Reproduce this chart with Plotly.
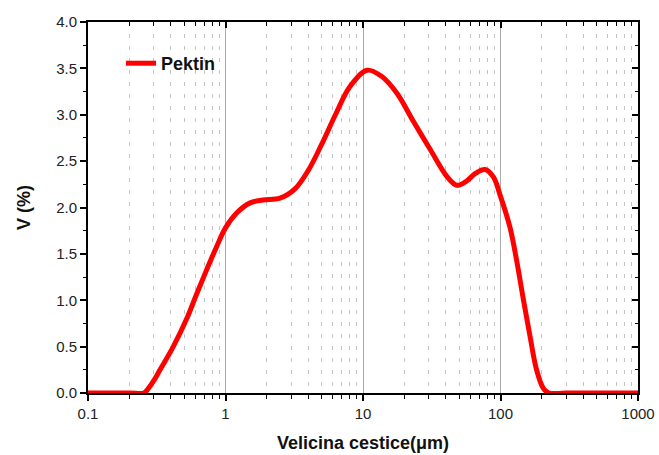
import plotly.graph_objects as go

size_um = [0.1, 0.2, 0.255, 0.275, 0.3, 0.334, 0.417, 0.522, 0.618, 0.73, 0.863, 1.0,
           1.205, 1.51, 1.87, 2.49, 3.2, 4.0, 5.0, 6.3, 8.0, 10.7, 13.5, 17.7, 23.0, 31.0,
           41.0, 48.0, 56.0, 66.0, 77.0, 88.7, 100.0, 117.0, 131.0, 147.0, 164.0, 183.0,
           205.0, 225.0, 300.0, 1000.0]
volume_pct = [0.0, 0.0, 0.0, 0.05, 0.13, 0.25, 0.5, 0.8, 1.07, 1.33, 1.58, 1.78,
              1.94, 2.05, 2.08, 2.1, 2.2, 2.4, 2.68, 3.0, 3.3, 3.48, 3.42, 3.23, 2.94, 2.62,
              2.33, 2.24, 2.28, 2.37, 2.41, 2.33, 2.12, 1.79, 1.43, 1.0, 0.61, 0.25,
              0.05, 0.0, 0.0, 0.0]

series_name = "Pektin"
x_title = "Velicina cestice(μm)"
y_title = "V (%)"
x_tickvals = [0.1, 1, 10, 100, 1000]
x_ticktext = ["0.1", "1", "10", "100", "1000"]
y_tickvals = [0.0, 0.5, 1.0, 1.5, 2.0, 2.5, 3.0, 3.5, 4.0]

FONT = "Liberation Sans, Arial, sans-serif"
GRID = "#a8a8a8"
MINOR_GRID = "#c4c4c4"

fig = go.Figure()
fig.add_trace(go.Scatter(x=size_um, y=volume_pct, mode="lines", name=series_name,
                         line=dict(color="#ff0000", width=5, shape="spline", smoothing=1.0)))
fig.add_trace(go.Scatter(x=[None], y=[None], xaxis="x2", yaxis="y2", showlegend=False,
                         hoverinfo="skip"))

fig.update_layout(
    width=659, height=455,
    margin=dict(l=88, r=21, t=22, b=62, autoexpand=False),
    paper_bgcolor="white", plot_bgcolor="white",
    font=dict(family=FONT, size=15, color="#222222"),
    showlegend=True,
    legend=dict(x=0.06, y=0.938, xanchor="left", yanchor="top", bgcolor="rgba(0,0,0,0)",
                font=dict(family=FONT, size=18, color="#111111", weight="bold")),
    xaxis=dict(type="log", range=[-1, 3], tickvals=x_tickvals, ticktext=x_ticktext,
               automargin=False,
               ticks="outside", ticklen=6, tickwidth=1.5, tickcolor="black",
               showline=True, linecolor="black", linewidth=2,
               showgrid=True, gridcolor=GRID, gridwidth=1, zeroline=False,
               minor=dict(dtick="D1", ticks="outside", ticklen=4, tickcolor="black", tickwidth=1,
                          showgrid=True, gridcolor=MINOR_GRID, griddash="4px,8px", gridwidth=1),
               title=dict(text=x_title, font=dict(family=FONT, size=18, color="#111111", weight="bold"),
                          standoff=15),
               tickfont=dict(family=FONT, size=15, color="#222222")),
    yaxis=dict(range=[0, 4], tickvals=y_tickvals, tickformat=".1f", automargin=False,
               ticks="outside", ticklen=6, tickwidth=1.5, tickcolor="black",
               showline=True, linecolor="black", linewidth=2,
               showgrid=False, zeroline=False,
               minor=dict(dtick=0.25, ticks="outside", ticklen=3, tickcolor="black", tickwidth=1,
                          showgrid=False),
               title=dict(text=y_title, font=dict(family=FONT, size=18, color="#111111", weight="bold"),
                          standoff=21),
               tickfont=dict(family=FONT, size=15, color="#222222")),
    xaxis2=dict(type="log", range=[-1, 3], overlaying="x", side="top", anchor="y2",
                tickvals=x_tickvals, showticklabels=False, automargin=False,
                ticks="inside", ticklen=6, tickwidth=1.5, tickcolor="black",
                showline=True, linecolor="black", linewidth=2, showgrid=False, zeroline=False,
                minor=dict(dtick="D1", ticks="inside", ticklen=4, tickcolor="black", tickwidth=1,
                           showgrid=False)),
    yaxis2=dict(range=[0, 4], overlaying="y", side="right", anchor="x2", automargin=False,
                tickvals=y_tickvals, showticklabels=False,
                ticks="inside", ticklen=6, tickwidth=1.5, tickcolor="black",
                showline=True, linecolor="black", linewidth=2, showgrid=False, zeroline=False,
                minor=dict(dtick=0.25, ticks="inside", ticklen=3, tickcolor="black", tickwidth=1,
                           showgrid=False)),
)

fig.write_html("out.html")
